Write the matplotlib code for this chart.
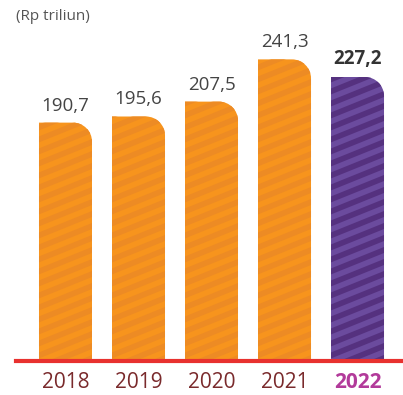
import numpy as np
import matplotlib
matplotlib.use("Agg")
import matplotlib.pyplot as plt
from matplotlib.path import Path
from matplotlib.patches import PathPatch, Polygon

plt.rcParams['font.family'] = ['Open Sans', 'DejaVu Sans']

# --- data ---
years = ['2018', '2019', '2020', '2021', '2022']
values = [190.7, 195.6, 207.5, 241.3, 227.2]
labels = ['190,7', '195,6', '207,5', '241,3', '227,2']
highlight = [False, False, False, False, True]

# --- style ---
orange_light, orange_dark = '#F7941D', '#ED8B24'
purple_light, purple_dark = '#6B4B9E', '#55317F'

W, H = 403, 395
fig = plt.figure(figsize=(W / 100, H / 100), dpi=100)
base_px = 361
ax = fig.add_axes([16 / W, (H - base_px) / H, 1 - 16 / W, (base_px - 8) / H])
ax.set_autoscale_on(False)
ax.set_xlim(-0.678, 4.623)
ymax = (base_px - 8) / 1.25
ax.set_ylim(0, ymax)
ax.axis('off')

# pixel -> data conversions
px_x = (ax.get_position().width * W) / (4.623 + 0.678)
px_y = (ax.get_position().height * H) / ymax
bw = 53 / px_x
r_px = 19
rx, ry = r_px / px_x, r_px / px_y


def bar_path(x0, x1, top):
    # rectangle with rounded top-right corner
    k = 0.5523
    verts = [(x0, 0), (x0, top), (x1 - rx, top),
             (x1 - rx + k * rx, top), (x1, top - ry + k * ry), (x1, top - ry),
             (x1, 0), (x0, 0)]
    codes = [Path.MOVETO, Path.LINETO, Path.LINETO,
             Path.CURVE4, Path.CURVE4, Path.CURVE4,
             Path.LINETO, Path.CLOSEPOLY]
    return Path(verts, codes)


for i, (v, lab, hl) in enumerate(zip(values, labels, highlight)):
    x0, x1 = i - bw / 2, i + bw / 2
    light, dark = (purple_light, purple_dark) if hl else (orange_light, orange_dark)
    patch = PathPatch(bar_path(x0, x1, v), facecolor=light, edgecolor='none', zorder=2)
    ax.add_patch(patch)

    # diagonal stripes, clipped to the bar shape
    period = 12  # px, measured vertically
    slope = np.tan(np.radians(22))
    span = 53 * slope
    for off in np.arange(-span - period, v * px_y + period, period):
        ys = [off / px_y, (off + span) / px_y,
              (off + span + period / 2) / px_y, (off + period / 2) / px_y]
        stripe = Polygon(list(zip([x0, x1, x1, x0], ys)), closed=True,
                         facecolor=dark, edgecolor='none', zorder=3)
        ax.add_patch(stripe)
        stripe.set_clip_path(patch)

    ax.text(i, v + 8 / px_y, lab, ha='center', va='bottom',
            fontsize=13.5, color='#333333' if hl else '#444444',
            fontweight='bold' if hl else 'normal')
    ax.text(i, -21 / px_y, years[i], ha='center', va='center',
            fontsize=15, color='#B23A9A' if hl else '#7A2A2C',
            fontweight='bold' if hl else 'normal')

ax.axhline(0, color='#E8312F', lw=3.0, zorder=4, clip_on=False)

fig.text(16 / W, 1 - 17 / H, '(Rp triliun)', ha='left', va='center',
         fontsize=11, color='#555555')

fig.savefig('out.png', dpi=100)
